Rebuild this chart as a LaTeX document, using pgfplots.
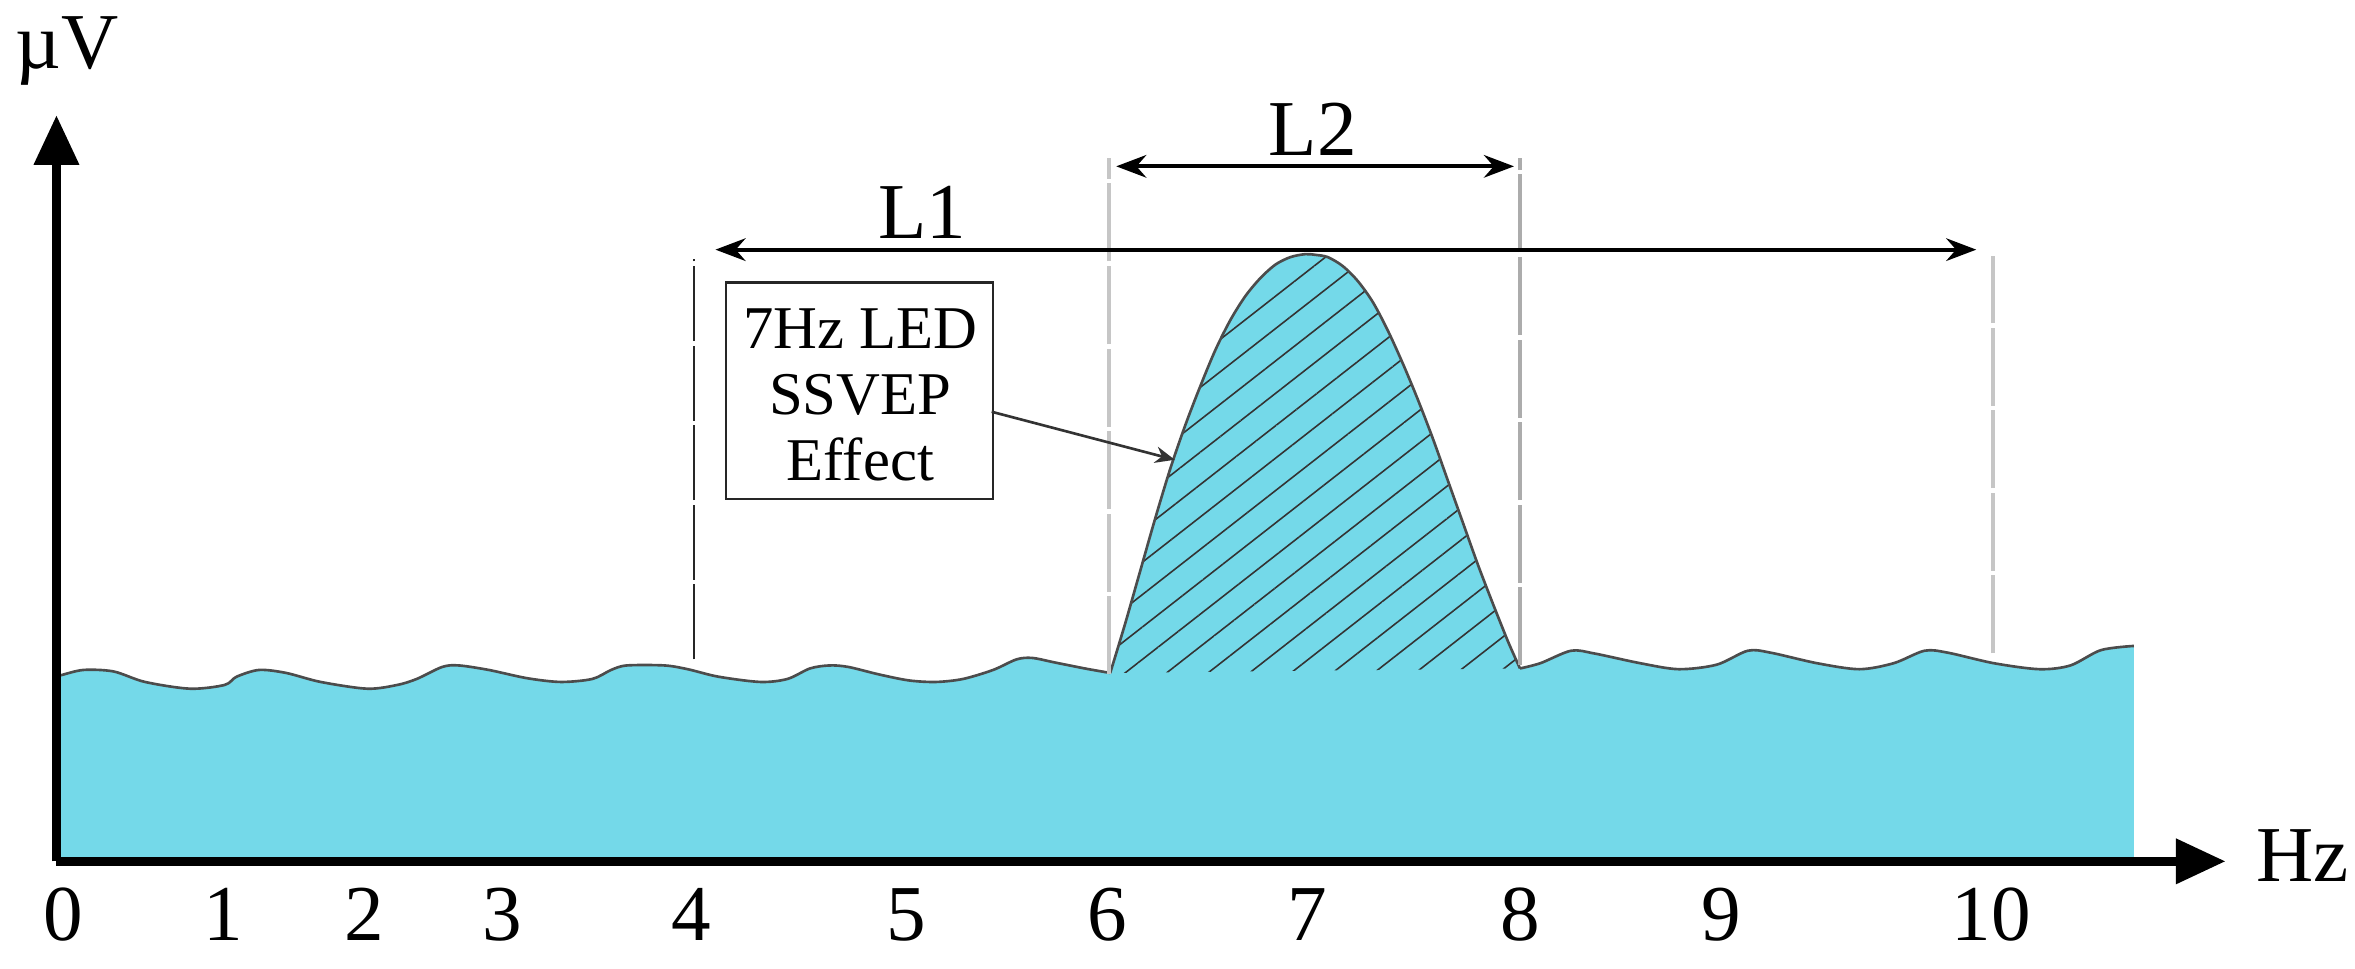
\documentclass[border=0pt]{standalone}
\usepackage{fontspec}
\setmainfont{Liberation Serif}
\usepackage{pgfplots}
\pgfplotsset{compat=1.18}
\usepackage{pgfplotstable}
\usetikzlibrary{arrows.meta, patterns.meta}
\definecolor{spec}{RGB}{116,217,233}

% background spectrum left of the SSVEP peak
\pgfplotstableread{
x y
0 123.5
3 124
18 127.5
38 126.5
59 119.5
89 115
112 117.5
120 123
135 127.5
153 125.5
176 119.5
207 115
227 117.5
240 121.5
257 129.5
268 130.5
288 127.5
313.5 122
336 119.5
357 121.5
369.5 127.5
380 130.5
405 130.5
420.5 128
441 123
469 119.5
487 121.5
502 128.5
515 130.5
527.5 129.5
548 124.5
568 120.5
586 119.5
604 121.5
624 127.5
639.5 134.5
650 135.5
665 132.5
685 128.5
702 125.5
}\waveL

% 7 Hz peak
\pgfplotstableread{
x y
702 125.5
712 158.5
722 193.5
732 228.5
742 261.5
752 290.5
762 316.5
772 340.5
782 360.5
792 376.5
802 388.5
812 397.5
822 402.5
832 404.5
839 404
847 402.5
857 396.5
867 386.5
877 372.5
887 353.5
897 331.5
907 307.5
917 281.5
927 253.5
937 225.5
947 197.5
957 171.5
967 146.5
975 128.5
}\peak

% background spectrum right of the peak
\pgfplotstableread{
x y
975 128.5
988.6 132
1009 140.3
1024.4 138.5
1055 132
1080.7 128
1106 131
1126.8 140.3
1142 139
1172.8 132
1201 128
1224 132
1244.5 140.3
1260 139
1290.6 132
1321 128
1341.7 130.5
1362 140.7
1384 143.5
}\waveR

\begin{document}
\begin{tikzpicture}
\path[use as bounding box] (-0.376,-0.715) rectangle (15.304,5.735);
\begin{axis}[
    x=0.01cm, y=0.01cm, anchor=origin, at={(0,0)},
    xmin=0, xmax=1445, ymin=0, ymax=497,
    axis x line=bottom, axis y line=left,
    axis line style={line width=1.6pt},
    x axis line style={-{Triangle[length=0.33cm,width=0.29cm]}},
    y axis line style={-{Triangle[length=0.33cm,width=0.29cm]}},
    ytick=\empty,
    xtick={4.5,111,205,297,423,566,700,833,975,1109,1289},
    xticklabels={0,1,2,3,4,5,6,7,8,9,10},
    major tick length=0pt,
    xticklabel style={anchor=base, yshift=-0.525cm, font=\fontsize{15}{18}\selectfont},
    clip=false, axis on top,
]
\addplot[fill=spec, draw=none, smooth, tension=0.5] table {\waveL} \closedcycle;
\addplot[fill=spec, draw=none, smooth, tension=0.5] table {\peak} \closedcycle;
\addplot[fill=spec, draw=none, smooth, tension=0.5] table {\waveR} \closedcycle;
\addplot[draw=none, smooth, tension=0.5, pattern={Lines[angle=38,distance=0.17cm,line width=0.3pt]}, pattern color=black!80] table {\peak} -- cycle;

\addplot[black!70, line width=0.5pt, smooth, tension=0.5] table {\waveL};
\addplot[black!70, line width=0.5pt, smooth, tension=0.5] table {\peak};
\addplot[black!70, line width=0.5pt, smooth, tension=0.5] table {\waveR};

% band limits
\addplot[black!85, line width=0.5pt, dash pattern=on 0.5cm off 0.03cm] coordinates {(424.6,134.5) (424.6,401.5)};
\addplot[gray!45, line width=0.8pt, dash pattern=on 0.52cm off 0.03cm] coordinates {(701,124.5) (701,468.5)};
\addplot[gray!65, line width=0.7pt, dash pattern=on 0.52cm off 0.03cm] coordinates {(975,130.5) (975,468.5)};
\addplot[gray!45, line width=0.8pt, dash pattern=on 0.52cm off 0.03cm] coordinates {(1290,138.5) (1290,403.5)};

\draw[line width=0.8pt, {Stealth[length=0.2cm,width=0.15cm]}-{Stealth[length=0.2cm,width=0.15cm]}] (439,407.5) -- (1279,407.5);
\draw[line width=0.8pt, {Stealth[length=0.2cm,width=0.15cm]}-{Stealth[length=0.2cm,width=0.15cm]}] (706,463) -- (971,463);
\node[anchor=base, inner sep=0, font=\fontsize{15}{18}\selectfont] at (577,415) {L1};
\node[anchor=base, inner sep=0, font=\fontsize{15}{18}\selectfont] at (837,470.5) {L2};

\draw[gray!30!black, line width=0.5pt] (446,241.5) rectangle (624,385.5);
\node[anchor=base, inner sep=0, font=\fontsize{11.5}{13}\selectfont] at (535.5,341.5) {7Hz LED};
\node[anchor=base, inner sep=0, font=\fontsize{11.5}{13}\selectfont] at (535.5,297.5) {SSVEP};
\node[anchor=base, inner sep=0, font=\fontsize{11.5}{13}\selectfont] at (535.5,253.5) {Effect};
\draw[black!80, line width=0.5pt, -{Stealth[length=0.13cm,width=0.11cm]}] (623,299.5) -- (745,267.5);

\node[anchor=base, inner sep=0, font=\fontsize{15}{18}\selectfont] at (7,528.5) {µV};
\node[anchor=base west, inner sep=0, font=\fontsize{15}{18}\selectfont] at (1465,-13.5) {Hz};
\end{axis}
\end{tikzpicture}
\end{document}
